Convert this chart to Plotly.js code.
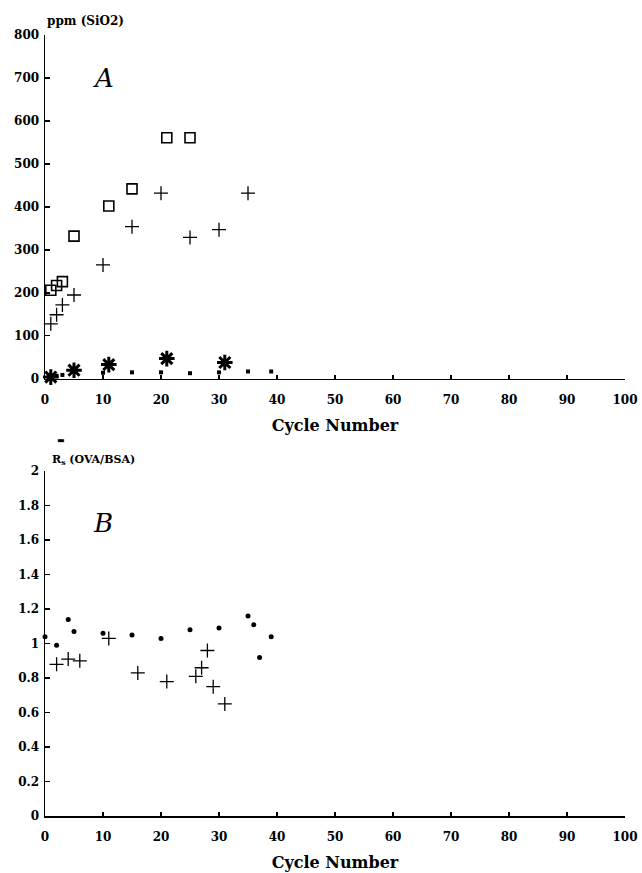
<!DOCTYPE html>
<html>
<head>
<meta charset="utf-8">
<script src="https://cdn.plot.ly/plotly-3.0.1.min.js"></script>
<style>html,body{margin:0;padding:0;background:#fff;}#chart{width:642px;height:873px;}</style>
</head>
<body>
<div id="chart"></div>
<script>
// Panel A: ppm (SiO2) vs cycle number
const aSquareX = [1, 2, 3, 5, 11, 15, 21, 25];
const aSquareY = [206, 217, 226, 332, 402, 442, 561, 561];
const aPlusX = [1, 2, 3, 5, 10, 15, 20, 25, 30, 35];
const aPlusY = [128, 149, 172, 195, 265, 354, 432, 329, 347, 432];
const aStarX = [1, 5, 11, 21, 31];
const aStarY = [4, 20, 33, 47, 38];
const aDotX = [2, 3, 10, 15, 20, 25, 30, 35, 39];
const aDotY = [7, 9, 14, 15, 15, 13, 15, 17, 17];

// Panel B: R_s (OVA/BSA) vs cycle number
const bDotX = [0, 2, 4, 5, 10, 15, 20, 25, 30, 35, 36, 37, 39];
const bDotY = [1.04, 0.99, 1.14, 1.07, 1.06, 1.05, 1.03, 1.08, 1.09, 1.16, 1.11, 0.92, 1.04];
const bPlusX = [2, 4, 6, 11, 16, 21, 26, 27, 28, 29, 31];
const bPlusY = [0.88, 0.91, 0.90, 1.03, 0.83, 0.78, 0.81, 0.86, 0.96, 0.75, 0.65];

const xTicks = [0, 10, 20, 30, 40, 50, 60, 70, 80, 90, 100];

const font = {family: '"DejaVu Serif", "Liberation Serif", serif', color: '#000'};

function tr(x, y, xa, ya, symbol, size, lw) {
  return {
    x: x, y: y, xaxis: xa, yaxis: ya, type: 'scatter', mode: 'markers',
    cliponaxis: false, showlegend: false, hoverinfo: 'skip',
    marker: {symbol: symbol, size: size, color: '#000', line: {color: '#000', width: lw}}
  };
}

const data = [
  tr(aSquareX, aSquareY, 'x', 'y', 'square-open', 10, 1.6),
  tr(aPlusX, aPlusY, 'x', 'y', 'cross-thin-open', 10, 1.3),
  tr(aStarX, aStarY, 'x', 'y', 'asterisk-open', 13, 3),
  tr(aDotX, aDotY, 'x', 'y', 'square', 4, 0),
  tr(bDotX, bDotY, 'x2', 'y2', 'circle', 5, 0),
  tr(bPlusX, bPlusY, 'x2', 'y2', 'cross-thin-open', 10, 1.3)
];

const xaxisBase = {
  range: [0, 100], tickvals: xTicks, ticktext: xTicks.map(String),
  showgrid: false, zeroline: false, showline: true, linecolor: '#000', linewidth: 1.5,
  ticks: 'inside', ticklen: 4, tickwidth: 1.3, tickcolor: '#000', ticklabelstandoff: 9,
  tickfont: Object.assign({size: 12, weight: 'bold'}, font),
  title: {text: 'Cycle Number', font: Object.assign({size: 16, weight: 'bold'}, font), standoff: 14}
};
const yaxisBase = {
  showgrid: false, zeroline: false, showline: true, linecolor: '#000', linewidth: 1.5,
  ticks: 'inside', ticklen: 5, tickwidth: 1.3, tickcolor: '#000', ticklabelstandoff: 2,
  tickfont: Object.assign({size: 12, weight: 'bold'}, font)
};

const layout = {
  width: 642, height: 873,
  margin: {l: 45, r: 17, t: 35, b: 57},
  paper_bgcolor: '#fff', plot_bgcolor: '#fff',
  font: font,
  xaxis: Object.assign({}, xaxisBase, {anchor: 'y', domain: [0, 1]}),
  yaxis: Object.assign({}, yaxisBase, {anchor: 'x', domain: [0.5598, 1], range: [0, 800], dtick: 100, tick0: 0}),
  xaxis2: Object.assign({}, xaxisBase, {anchor: 'y2', domain: [0, 1]}),
  yaxis2: Object.assign({}, yaxisBase, {anchor: 'x2', domain: [0, 0.4415], range: [0, 2], dtick: 0.2, tick0: 0}),
  annotations: [
    {text: 'ppm (SiO2)', xref: 'paper', yref: 'paper', x: 0, y: 1, xanchor: 'left', yanchor: 'bottom',
     yshift: 5, showarrow: false, font: Object.assign({size: 12, weight: 'bold'}, font)},
    {text: '<i>A</i>', xref: 'x', yref: 'y', x: 10, y: 700, xanchor: 'center', yanchor: 'middle',
     showarrow: false, font: Object.assign({size: 26}, font)},
    {text: 'R<sub>s</sub> (OVA/BSA)', xref: 'paper', yref: 'paper', x: 0, y: 0.4415, xanchor: 'left', yanchor: 'bottom',
     xshift: 5, yshift: 2, showarrow: false, font: Object.assign({size: 11, weight: 'bold'}, font)},
    {text: '\u25AC', xref: 'paper', yref: 'paper', x: 0, y: 0.4415, xanchor: 'left', yanchor: 'bottom',
     xshift: 10, yshift: 24, showarrow: false, font: Object.assign({size: 8}, font)},
    {text: '<i>B</i>', xref: 'x2', yref: 'y2', x: 10, y: 1.7, xanchor: 'center', yanchor: 'middle',
     showarrow: false, font: Object.assign({size: 26}, font)}
  ]
};

Plotly.newPlot('chart', data, layout, {displayModeBar: false, staticPlot: true});
</script>
</body>
</html>
